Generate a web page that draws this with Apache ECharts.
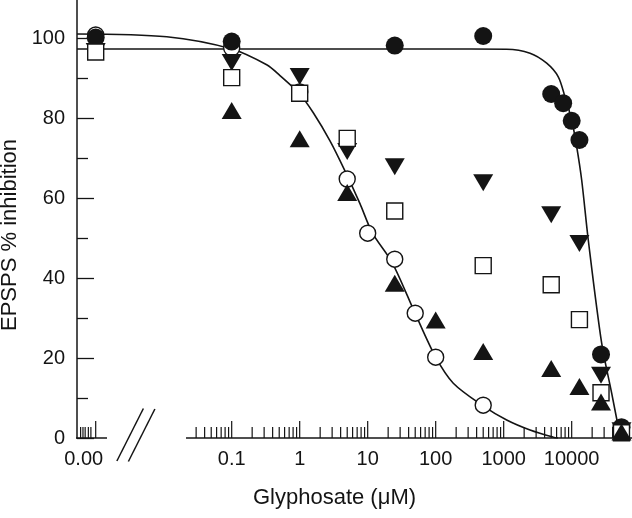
<!DOCTYPE html>
<html>
<head>
<meta charset="utf-8">
<script src="https://cdn.jsdelivr.net/npm/echarts@6/dist/echarts.min.js"></script>
<style>
html,body{margin:0;padding:0;background:#fff;}
#chart{width:632px;height:518px;}
</style>
</head>
<body>
<div id="chart"></div>
<script>
// ---- axis definitions ----
const xMin = 0.000531, xMax = 77100;          // log axis extent
const yMin = 0, yMax = 109.5;
const yMajorTicks = [0, 20, 40, 60, 80, 100];
const yMinorTicks = [10, 30, 50, 70, 90];
const xTickValues = [0.001, 0.1, 1, 10, 100, 1000, 10000];
const xTickLabels = ['0.00', '0.1', '1', '10', '100', '1000', '10000'];
const xZeroMinorTicks = [0.0006, 0.00065, 0.0007, 0.00078, 0.00085];
const xDecades = [0.01, 0.1, 1, 10, 100, 1000, 10000];
const xMinorMult = [2, 3, 4, 5, 6, 7, 8, 9];
const xAxisSegments = [[0.000531, 0.001466], [0.02203, 77100]];
const xBreakAt = [0.0039];

// ---- data (x = glyphosate µM; zero dose plotted at 0.001) ----
const openCircleX   = [0.001, 0.1, 1, 5, 10, 25, 50, 100, 500];
const openCircleY   = [100.75, 97.5, 86.5, 64.75, 51.2, 44.7, 31.2, 20.2, 8.2];
const filledCircleX = [0.001, 0.1, 25, 500, 5000, 7500, 10000, 13000, 27000, 54000];
const filledCircleY = [100.1, 99.1, 98.1, 100.5, 86, 83.7, 79.3, 74.5, 20.9, 2.7];
const downTriX      = [0.001, 0.1, 1, 5, 25, 500, 5000, 13000, 27000, 54000];
const downTriY      = [96.6, 93.9, 90.4, 71.6, 67.8, 63.8, 55.8, 48.6, 15.7, 1.8];
const squareX       = [0.001, 0.1, 1, 5, 25, 500, 5000, 13000, 27000, 54000];
const squareY       = [96.5, 90.1, 86.2, 74.9, 56.75, 43.1, 38.3, 29.6, 11.3, 1.3];
const upTriX        = [0.1, 1, 5, 25, 100, 500, 5000, 13000, 27000, 54000];
const upTriY        = [81.9, 74.8, 61.4, 38.7, 29.5, 21.6, 17.4, 12.9, 9.0, 1.5];

// fitted curves
const curveOpenX = [0.000531, 0.0111, 0.1, 0.327, 0.513, 1, 1.585, 2.79, 4.63, 7.7, 11.7, 23, 49.7, 100, 181.5, 491, 1107, 2440, 5360, 6300];
const curveOpenY = [101.0, 100.3, 97.25, 93.3, 90.6, 86.0, 81.3, 74.3, 66.8, 58.6, 51.3, 43.8, 31.2, 20.2, 13.7, 8.1, 4.5, 2.0, 0.2, 0];
const curveFilledX = [0.000531, 100, 1107, 2440, 4290, 6350, 7960, 10000, 11860, 14030, 17540, 27610, 38730, 48420, 52400];
const curveFilledY = [97.25, 97.25, 97.2, 96.2, 93.7, 90.3, 85.3, 79.5, 72.8, 64.5, 49.5, 23.7, 11.2, 2.8, 0];

const INK = '#141414';
const FONT = '"Liberation Sans", Arial, Helvetica, sans-serif';

function zip(xs, ys) { return xs.map((x, i) => [x, ys[i]]); }

const xMinorTicks = xZeroMinorTicks.slice();
xDecades.forEach(d => xMinorMult.forEach(m => {
  const v = d * m;
  if ((v > xAxisSegments[1][0] && v < 45000)) xMinorTicks.push(v);
}));

function tickSeries(values, len) {
  return {
    type: 'custom', coordinateSystem: 'cartesian2d', silent: true, z: 3,
    data: values.map(v => [v, 0]),
    renderItem: function (params, api) {
      const p = api.coord([api.value(0), 0]);
      return { type: 'line', shape: { x1: p[0], y1: p[1], x2: p[0], y2: p[1] - len },
               style: { stroke: INK, lineWidth: 1.2 } };
    }
  };
}

const chart = echarts.init(document.getElementById('chart'), null, { renderer: 'canvas' });

const option = {
  animation: false,
  backgroundColor: '#fff',
  grid: { left: 77, right: 0, top: 0, bottom: 80, containLabel: false, outerBoundsMode: 'none' },
  xAxis: {
    type: 'log', logBase: 10, min: xMin, max: xMax,
    axisLine: { show: false }, axisTick: { show: false }, splitLine: { show: false },
    axisLabel: {
      margin: 11, fontSize: 20, fontFamily: FONT, color: INK,
      formatter: function (v) {
        for (let i = 0; i < xTickValues.length; i++) {
          if (Math.abs(Math.log10(v) - Math.log10(xTickValues[i])) < 1e-6) {
            return i === 0 ? '{z|' + xTickLabels[i] + '}' : xTickLabels[i];
          }
        }
        return '';
      },
      rich: { z: { fontSize: 20, fontFamily: FONT, color: INK, padding: [0, 24, 0, 0] } }
    },
    name: 'Glyphosate (\u03bcM)', nameLocation: 'middle', nameGap: 49,
    nameTextStyle: { fontSize: 22, fontFamily: FONT, color: INK, padding: [0, 40, 0, 0] }
  },
  yAxis: [{
    type: 'value', min: yMin, max: yMax,
    axisLine: { show: true, lineStyle: { color: INK, width: 1.5 } },
    axisTick: { show: true, inside: true, length: 17, lineStyle: { color: INK, width: 1.3 }, customValues: yMajorTicks },
    axisLabel: { margin: 12, fontSize: 20, fontFamily: FONT, color: INK, customValues: yMajorTicks },
    splitLine: { show: false },
    name: 'EPSPS % inhibition', nameLocation: 'middle', nameGap: 50,
    nameTextStyle: { fontSize: 22, fontFamily: FONT, color: INK, padding: [0, 32, 0, 0] }
  }, {
    type: 'value', min: yMin, max: yMax, position: 'left', offset: 0,
    axisLine: { show: false },
    axisTick: { show: true, inside: true, length: 11, lineStyle: { color: INK, width: 1.3 }, customValues: yMinorTicks },
    axisLabel: { show: false },
    splitLine: { show: false }
  }],
  series: [
    // axis line segments
    {
      type: 'custom', coordinateSystem: 'cartesian2d', silent: true, z: 3,
      data: xAxisSegments,
      renderItem: function (params, api) {
        const a = api.coord([api.value(0), 0]);
        const b = api.coord([api.value(1), 0]);
        return { type: 'line', shape: { x1: a[0] - 1, y1: a[1], x2: b[0], y2: b[1] },
                 style: { stroke: INK, lineWidth: 1.5 } };
      }
    },
    // break marks
    {
      type: 'custom', coordinateSystem: 'cartesian2d', silent: true, z: 3,
      data: xBreakAt.map(v => [v, 0]),
      renderItem: function (params, api) {
        const c = api.coord([api.value(0), 0]);
        return { type: 'group', children: [
          { type: 'line', shape: { x1: c[0] - 19, y1: c[1] + 23, x2: c[0] + 7.5, y2: c[1] - 29.5 }, style: { stroke: INK, lineWidth: 1.5 } },
          { type: 'line', shape: { x1: c[0] - 7.5, y1: c[1] + 23.5, x2: c[0] + 19, y2: c[1] - 29 }, style: { stroke: INK, lineWidth: 1.5 } }
        ] };
      }
    },
    tickSeries(xTickValues, 17),
    tickSeries(xMinorTicks, 11),
    // curves
    { type: 'line', data: zip(curveOpenX, curveOpenY), smooth: 0.3, showSymbol: false, symbol: 'none',
      lineStyle: { color: INK, width: 1.6 }, z: 4, silent: true },
    { type: 'line', data: zip(curveFilledX, curveFilledY), smooth: 0.3, showSymbol: false, symbol: 'none',
      lineStyle: { color: INK, width: 1.6 }, z: 4, silent: true },
    // markers
    { type: 'scatter', data: zip(openCircleX, openCircleY), symbol: 'circle', symbolSize: 16,
      itemStyle: { color: '#fff', borderColor: INK, borderWidth: 1.4, opacity: 1 }, z: 5 },
    { type: 'scatter', data: zip(filledCircleX, filledCircleY), symbol: 'circle', symbolSize: 18,
      itemStyle: { color: INK, opacity: 1 }, z: 6 },
    { type: 'scatter', data: zip(downTriX, downTriY), symbol: 'triangle', symbolRotate: 180, symbolSize: [20, 17],
      itemStyle: { color: INK, opacity: 1 }, z: 7 },
    { type: 'scatter', data: zip(squareX, squareY), symbol: 'rect', symbolSize: 16,
      itemStyle: { color: '#fff', borderColor: INK, borderWidth: 1.4, opacity: 1 }, z: 8 },
    { type: 'scatter', data: zip(upTriX, upTriY), symbol: 'triangle', symbolSize: [20, 17],
      itemStyle: { color: INK, opacity: 1 }, z: 9 }
  ]
};
chart.setOption(option);
</script>
</body>
</html>
